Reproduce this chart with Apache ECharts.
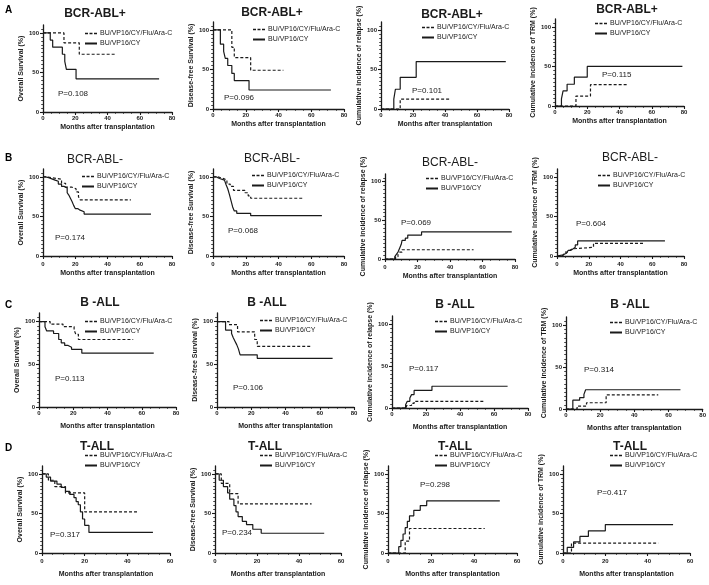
<!DOCTYPE html>
<html>
<head>
<meta charset="utf-8">
<script src="https://cdn.jsdelivr.net/npm/echarts@6/dist/echarts.min.js"></script>
<style>html,body{margin:0;padding:0;background:#fff}#c{width:709px;height:585px}</style>
</head>
<body>
<div id="c"></div>
<script>
// ---------------- DATA ----------------
const seriesNames = ['BU/VP16/CY/Flu/Ara-C', 'BU/VP16/CY'];
const rowLetters = ['A', 'B', 'C', 'D'];
const rowTitles = ['BCR-ABL+', 'BCR-ABL-', 'B -ALL', 'T-ALL'];
const yAxisNames = ['Overall Survival (%)', 'Disease-free Survival (%)', 'Cumulative incidence of relapse (%)', 'Cumulative incidence of TRM (%)'];
const xAxisName = 'Months after transplantation';
const yTickValues = [0, 50, 100];
const xAxisMax = [80, 80, 80, 60];
const pValues = [
  ['P=0.108', 'P=0.096', 'P=0.101', 'P=0.115'],
  ['P=0.174', 'P=0.068', 'P=0.069', 'P=0.604'],
  ['P=0.113', 'P=0.106', 'P=0.117', 'P=0.314'],
  ['P=0.317', 'P=0.234', 'P=0.298', 'P=0.417']
];

// Row A: BCR-ABL+  ([months, %])
const a1Flu = [[0,100],[13,87.5],[22.5,73],[45,73]];
const a1Cy  = [[0,100],[4.5,91],[6,82],[12,73],[13.5,64],[14.5,54],[20.5,42],[72,42]];
const a2Flu = [[0,100],[11.5,78],[13,65],[23,49],[43,49]];
const a2Cy  = [[0,100],[4.5,82],[6.5,73],[7.5,64],[9,55],[11.5,45],[13,36],[22,24],[72,24]];
const a3Flu = [[0,0],[12,12.5],[43.5,12.5]];
const a3Cy  = [[0,0],[8,12.5],[9,25],[12,40],[22,60],[78,60]];
const a4Flu = [[0,0],[13,12.5],[22,27],[45,27]];
const a4Cy  = [[0,0],[4,9],[5,19],[7.5,27.5],[12,36.5],[20,50],[79,50]];
// Row B: BCR-ABL-
const b1Flu = [[0,100],[2,99],[5,98],[8.5,97],[11.5,92],[14,87],[18,85],[20.5,81],[22,75],[23,71],[54.5,71]];
const b1Cy  = [[0,100],[1.5,99],[3.5,97.5],[5.5,96],[7.5,94.5],[9.5,91],[11.5,88],[13,86],[15,80],[16,77],[17,73],[18,69],[19,64],[20,60],[21.5,58],[23,56],[25.5,53],[67,53]];
const b2Flu = [[0,100],[3,98],[6.5,96],[8.5,91],[10.5,88],[12.5,83],[19.5,80],[21.5,76],[23,73],[55,73]];
const b2Cy  = [[0,100],[2,98],[4,96],[7,95],[8,90],[9,85],[10,78],[11,70],[12,62],[13,57],[14.5,54],[23,51],[66.5,51]];
const b3Flu = [[0,0],[6.5,3],[8,6],[9,9],[10.5,12],[54.5,12]];
const b3Cy  = [[0,0],[6,3],[7,6],[8,9],[9,14],[10,19],[10.5,24],[12.5,27],[14,31],[22.5,35],[78,35]];
const b4Flu = [[0,0],[2,1],[4,3],[5,5],[6.5,7],[8,9],[9.5,11],[23,16],[55,16]];
const b4Cy  = [[0,0],[1,1],[3,2],[4,3.5],[6,5],[7,7],[8.5,9],[10,11],[11.5,14],[13,19],[68,19]];
// Row C: B-ALL
const c1Flu = [[0,100],[6.5,97],[14,94],[20.5,90],[21.5,85],[23,79],[55,79]];
const c1Cy  = [[0,100],[3.5,94],[4.5,89],[8.5,86],[11.5,79],[13,75],[15,72],[17,70],[19,67.5],[25,63],[67,63]];
const c2Flu = [[0,100],[7,96.5],[12,88],[22,79],[23.5,71],[54.5,71]];
const c2Cy  = [[0,100],[5,90],[8.5,86],[9.5,81],[10.5,77],[11.5,73],[12.5,68],[13.5,61],[23.5,57],[67.5,57]];
const c3Flu = [[0,0],[8.5,3],[11.5,5.5],[13,8],[54.5,8]];
const c3Cy  = [[0,0],[8,4],[9,8],[10.5,12],[11.5,16],[13,21],[23.5,26],[68,26]];
const c4Flu = [[0,0],[6.5,3.5],[12,7.5],[23.5,17],[54,17]];
const c4Cy  = [[0,0],[4,10.5],[8,13.5],[10.5,17.5],[11.5,23],[67,23]];
// Row D: T-ALL
const d1Flu = [[0,100],[3,92],[6,84],[11,76],[20,52],[45,52]];
const d1Cy  = [[0,100],[2,96],[4,91],[7,87],[9,83],[11,78],[13,74],[15,70],[16,65],[17,61],[18,52],[19,43],[20,35],[22,26],[52,26]];
const d2Flu = [[0,100],[3,88],[7,75],[11,62],[46,62]];
const d2Cy  = [[0,100],[2,92],[4,84],[6,76],[7,68],[9,60],[10,52],[11,46],[13,40],[15,36],[18,30],[22,25],[52,25]];
const d3Flu = [[0,0],[8,15],[10,31],[45,31]];
const d3Cy  = [[0,0],[5,8],[6,16],[7,24],[8,32],[9,40],[10,47],[12,54],[15,60],[18,66],[52,66]];
const d4Flu = [[0,0],[4,12.5],[45,12.5]];
const d4Cy  = [[0,0],[2,7],[5,14],[8,21],[12,28],[20,36],[52,36]];

const fluCurves = [a1Flu,a2Flu,a3Flu,a4Flu,b1Flu,b2Flu,b3Flu,b4Flu,c1Flu,c2Flu,c3Flu,c4Flu,d1Flu,d2Flu,d3Flu,d4Flu];
const cyCurves  = [a1Cy,a2Cy,a3Cy,a4Cy,b1Cy,b2Cy,b3Cy,b4Cy,c1Cy,c2Cy,c3Cy,c4Cy,d1Cy,d2Cy,d3Cy,d4Cy];

// ---------------- LAYOUT (pixels) ----------------
// grid boxes: [left, top, width, height]; y axis spans 0..110
const gridBoxes = [
  [43,25,129,87],[213,22,131,87],[381,22,128,87],[555,19,129,87],
  [43,169,129,87],[213,169,131,87],[385,174,130,85],[557,169,127,87],
  [39,313,137,94],[217,313,137,94],[392,316,136,92],[566,317,138,92],
  [42,466,128,87],[215,466,126,87],[388,466,129,87],[563,466,127,87]
];
const titlePos = [[95,14],[272,13],[452,15],[627,10],[95,160],[272,159],[450,163],[630,158],[100,303],[267,303],[455,305],[630,305],[97,447],[265,447],[455,447],[630,447]];
const legendPos = [[85,30],[253,26],[422,24],[595,20],[82,173],[252,172],[426,175],[598,172],[85,318],[260,317],[435,318],[610,319],[85,452],[260,452],[435,452],[610,452]];
const pPos = [[58,94],[224,98],[412,91],[602,75],[55,238],[228,231],[401,223],[576,224],[55,379],[233,388],[409,369],[584,370],[50,535],[222,533],[420,485],[597,493]];
const letterPos = [[5,10],[5,158],[5,305],[5,448]];
const titleWeights = ['bold','normal','bold','bold'];
const xNameGap = [12,14,16,18];
const xLabelMargin = [3,5,3,5];

const FONT = '"Liberation Sans", Arial, Helvetica, sans-serif';
const INK = '#1a1a1a';

const grids = [], xAxes = [], yAxes = [], series = [], legends = [], graphics = [];
for (let i = 0; i < 16; i++) {
  const row = Math.floor(i / 4), col = i % 4;
  const g = gridBoxes[i];
  grids.push({ left: g[0], top: g[1], width: g[2], height: g[3], containLabel: false });
  xAxes.push({
    gridIndex: i, type: 'value', min: 0, max: xAxisMax[row], interval: 20,
    name: xAxisName, nameLocation: 'middle', nameGap: xNameGap[row],
    nameTextStyle: { fontSize: 7, fontWeight: 'bold', color: INK, fontFamily: FONT },
    axisLine: { show: true, onZero: false, lineStyle: { color: INK, width: 1.3 } },
    axisTick: { show: true, length: 3, lineStyle: { color: INK, width: 1.1 } },
    minorTick: { show: true, splitNumber: 4, length: 1.8, lineStyle: { color: INK, width: 0.8 } },
    axisLabel: { fontSize: 6, fontWeight: 'bold', color: INK, margin: xLabelMargin[row], fontFamily: FONT },
    splitLine: { show: false }
  });
  yAxes.push({
    gridIndex: i, type: 'value', min: 0, max: 110, interval: 50,
    name: yAxisNames[col], nameLocation: 'middle', nameGap: 18,
    nameTextStyle: { fontSize: 7, fontWeight: 'bold', color: INK, fontFamily: FONT },
    axisLine: { show: true, onZero: false, lineStyle: { color: INK, width: 1.3 } },
    axisTick: { show: true, length: 3, customValues: yTickValues, lineStyle: { color: INK, width: 1.1 } },
    minorTick: { show: true, splitNumber: 10, length: 1.8, lineStyle: { color: INK, width: 0.8 } },
    axisLabel: { fontSize: 6, fontWeight: 'bold', color: INK, margin: 4, customValues: yTickValues, fontFamily: FONT },
    splitLine: { show: false }
  });
  series.push({
    type: 'line', name: seriesNames[0], xAxisIndex: i, yAxisIndex: i, step: 'end',
    symbol: 'none', data: fluCurves[i], silent: true, animation: false,
    lineStyle: { color: INK, width: 1.2, type: [3, 2] }, itemStyle: { color: INK }
  });
  series.push({
    type: 'line', name: seriesNames[1], xAxisIndex: i, yAxisIndex: i, step: 'end',
    symbol: 'none', data: cyCurves[i], silent: true, animation: false,
    lineStyle: { color: INK, width: 1.2, type: 'solid' }, itemStyle: { color: INK }
  });
  legends.push({
    left: legendPos[i][0], top: legendPos[i][1], orient: 'vertical', padding: 0,
    itemWidth: 12, itemHeight: 2, itemGap: 3, selectedMode: false,
    data: [
      { name: seriesNames[0], icon: 'path://M0,0h3v1.5h-3z M4.5,0h3v1.5h-3z M9,0h3v1.5h-3z' },
      { name: seriesNames[1], icon: 'rect' }
    ],
    textStyle: { fontSize: 7, color: INK, fontFamily: FONT, padding: [0, 0, 0, -2] }
  });
  graphics.push({
    type: 'text', x: titlePos[i][0], y: titlePos[i][1], silent: true,
    style: { text: rowTitles[row], font: titleWeights[row] + ' 12px ' + FONT, fill: INK,
      align: 'center', verticalAlign: 'middle', textAlign: 'center', textVerticalAlign: 'middle' }
  });
  graphics.push({
    type: 'text', x: pPos[i][0], y: pPos[i][1], silent: true,
    style: { text: pValues[row][col], font: '8px ' + FONT, fill: INK,
      align: 'left', verticalAlign: 'middle', textAlign: 'left', textVerticalAlign: 'middle' }
  });
}
for (let r = 0; r < 4; r++) {
  graphics.push({
    type: 'text', x: letterPos[r][0], y: letterPos[r][1], silent: true,
    style: { text: rowLetters[r], font: 'bold 10px ' + FONT, fill: '#000',
      align: 'left', verticalAlign: 'middle', textAlign: 'left', textVerticalAlign: 'middle' }
  });
}

const chart = echarts.init(document.getElementById('c'), null, { renderer: 'canvas' });
chart.setOption({
  backgroundColor: '#ffffff',
  animation: false,
  textStyle: { fontFamily: FONT },
  grid: grids, xAxis: xAxes, yAxis: yAxes, series: series,
  legend: legends, graphic: graphics
});
</script>
</body>
</html>
